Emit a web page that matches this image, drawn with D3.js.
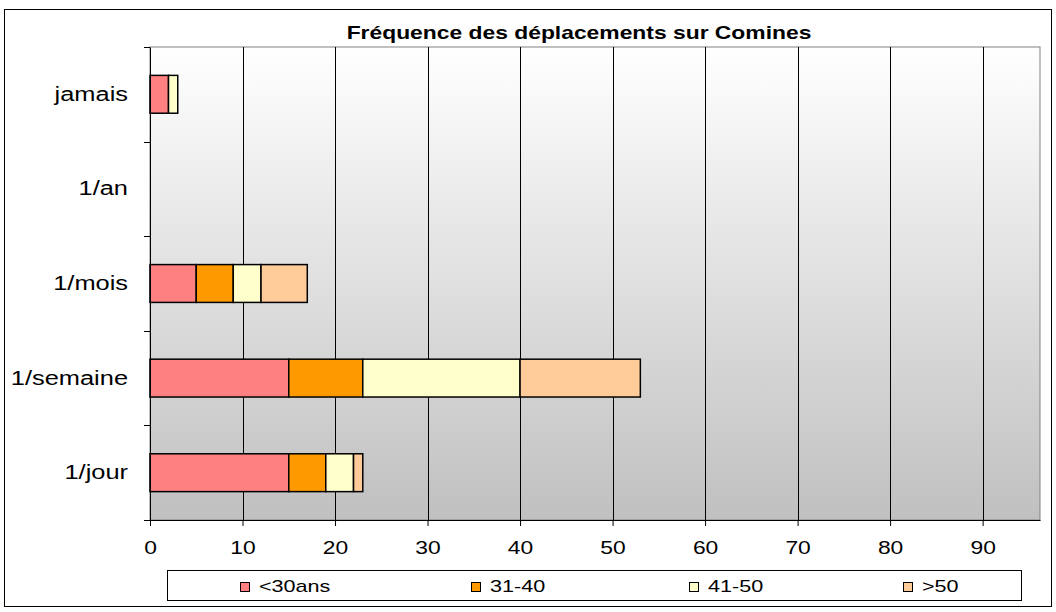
<!DOCTYPE html>
<html>
<head>
<meta charset="utf-8">
<script src="https://d3js.org/d3.v7.min.js"></script>
<style>
  body { margin: 0; background: #fff; }
  text { font-family: "Liberation Sans", Arial, sans-serif; }
</style>
</head>
<body>
<script>
// data
const categories = ["jamais", "1/an", "1/mois", "1/semaine", "1/jour"];
const seriesNames = ["<30ans", "31-40", "41-50", ">50"];
const under30 = [2, 0, 5, 15, 15];
const from31to40 = [0, 0, 4, 8, 4];
const from41to50 = [1, 0, 3, 17, 3];
const over50 = [0, 0, 5, 13, 1];
const xTicks = [0, 10, 20, 30, 40, 50, 60, 70, 80, 90];
const colors = ["#ff8080", "#ff9900", "#ffffcc", "#ffcc99"];

const width = 1056, height = 612;
const margin = {top: 47, right: 16, bottom: 92, left: 150};
const sx = 1.27; // the original text is stretched sideways

const svg = d3.select("body").append("svg")
  .attr("width", width).attr("height", height);

// outer frame
svg.append("rect")
  .attr("x", 4.5).attr("y", 9.5)
  .attr("width", 1047).attr("height", 597)
  .attr("fill", "#fff").attr("stroke", "#000");

const defs = svg.append("defs");
const grad = defs.append("linearGradient")
  .attr("id", "bg").attr("x1", 0).attr("y1", 0).attr("x2", 0).attr("y2", 1);
grad.append("stop").attr("offset", "0%").attr("stop-color", "#ffffff");
grad.append("stop").attr("offset", "100%").attr("stop-color", "#c0c0c0");

const x = d3.scaleLinear()
  .domain([0, 96.2])
  .range([margin.left, width - margin.right]);

const y = d3.scaleBand()
  .domain(categories)
  .range([margin.top, height - margin.bottom])
  .paddingInner(0.6).paddingOuter(0.3);

svg.append("rect")
  .attr("x", x(0)).attr("y", margin.top)
  .attr("width", x.range()[1] - x(0))
  .attr("height", height - margin.bottom - margin.top)
  .attr("fill", "url(#bg)")
  .attr("stroke", "#808080");

// gridlines
svg.append("g")
  .selectAll("line")
  .data(xTicks.slice(1))
  .join("line")
    .attr("x1", d => Math.round(x(d)) + 0.5)
    .attr("x2", d => Math.round(x(d)) + 0.5)
    .attr("y1", margin.top)
    .attr("y2", height - margin.bottom)
    .attr("stroke", "#000");

// title
svg.append("text")
  .attr("transform", `translate(579,39) scale(${sx},1)`)
  .attr("text-anchor", "middle")
  .attr("font-size", 18).attr("font-weight", "bold")
  .text("Fréquence des déplacements sur Comines");

// stacked bars
const table = categories.map((c, i) => ({
  cat: c, "<30ans": under30[i], "31-40": from31to40[i], "41-50": from41to50[i], ">50": over50[i]
}));
const stacked = d3.stack().keys(seriesNames)(table);

svg.append("g")
  .selectAll("g")
  .data(stacked)
  .join("g")
    .attr("fill", (d, i) => colors[i])
  .selectAll("rect")
  .data(d => d.filter(s => s[1] - s[0] > 0))
  .join("rect")
    .attr("x", d => x(d[0]))
    .attr("y", d => y(d.data.cat))
    .attr("width", d => x(d[1]) - x(d[0]))
    .attr("height", y.bandwidth())
    .attr("stroke", "#000")
    .attr("stroke-width", 1.5);

// axes
const xAxis = svg.append("g")
  .attr("transform", `translate(0,${height - margin.bottom})`)
  .call(d3.axisBottom(x).tickValues(xTicks).tickSize(6).tickSizeOuter(0));
xAxis.select(".domain").attr("stroke", "#000");
xAxis.selectAll("text")
  .attr("font-size", 18)
  .attr("y", 34).attr("dy", null)
  .attr("transform", `scale(${sx},1)`)
  .style("font-family", "Liberation Sans, Arial, sans-serif");

const yAxis = svg.append("g")
  .attr("transform", `translate(${margin.left},0)`)
  .call(d3.axisLeft(y).tickSize(0));
yAxis.select(".domain").attr("stroke", "#000");
yAxis.selectAll("text")
  .attr("font-size", 20)
  .attr("x", -22 / sx)
  .attr("transform", `scale(${sx},1)`)
  .style("font-family", "Liberation Sans, Arial, sans-serif");

// category separator ticks
const bounds = d3.range(categories.length + 1).map(i => margin.top + i * (height - margin.bottom - margin.top) / categories.length);
svg.append("g")
  .selectAll("line")
  .data(bounds)
  .join("line")
    .attr("x1", margin.left - 6).attr("x2", margin.left)
    .attr("y1", d => Math.round(d) + 0.5).attr("y2", d => Math.round(d) + 0.5)
    .attr("stroke", "#000");

// legend
const legend = svg.append("g");
legend.append("rect")
  .attr("x", 167.5).attr("y", 570.5)
  .attr("width", 854).attr("height", 30)
  .attr("fill", "#fff").attr("stroke", "#000");
const legendX = [240, 471, 689, 903];
seriesNames.forEach((name, i) => {
  legend.append("rect")
    .attr("x", legendX[i] + 0.5).attr("y", 582.5)
    .attr("width", 9).attr("height", 9)
    .attr("fill", colors[i]).attr("stroke", "#000");
  legend.append("text")
    .attr("transform", `translate(${legendX[i] + 19},592) scale(${sx},1)`)
    .attr("font-size", 17)
    .text(name);
});
</script>
</body>
</html>
